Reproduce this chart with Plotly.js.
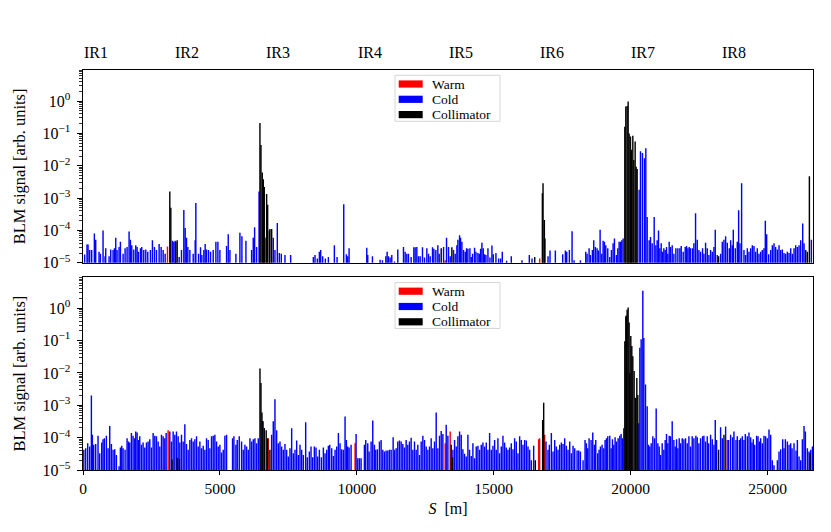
<!DOCTYPE html>
<html>
<head>
<meta charset="utf-8">
<script src="https://cdn.plot.ly/plotly-3.0.1.min.js"></script>
<style>html,body{margin:0;padding:0;background:#fff;}#chart{width:831px;height:532px;}</style>
</head>
<body>
<div id="chart"></div>
<script>
// ---------------- data ----------------
const irNames = ['IR1','IR2','IR3','IR4','IR5','IR6','IR7','IR8'];
const irPos = [0, 3332, 6664, 9997, 13329, 16661, 19994, 23315];
const xTickVals = [0, 5000, 10000, 15000, 20000, 25000];
const xTickText = ['0', '5000', '10000', '15000', '20000', '25000'];
const yTickVals = [1e-5, 1e-4, 1e-3, 1e-2, 1e-1, 1];
const yTickText = ['10<sup>\u22125</sup>','10<sup>\u22124</sup>','10<sup>\u22123</sup>','10<sup>\u22122</sup>','10<sup>\u22121</sup>','10<sup>0</sup>'];
const legendNames = ['Warm', 'Cold', 'Collimator'];

// ---- top panel ----
const topWarmS = [3085, 6660, 13228, 16677, 20012];
const topWarmV = [3.2e-5, 6e-5, 1.2e-5, 1.35e-5, 1e-3];

const topColdS = [
60,147,184,245,318,415,464,586,635,732,
805,830,952,1013,1098,1147,1196,1244,1317,1366,
1464,1537,1610,1683,1732,1781,1854,1927,1976,2024,
2098,2146,2219,2293,2366,2463,2536,2610,2683,2780,
2853,2927,3000,3268,3317,3365,3512,3597,3682,3731,
3780,3829,3902,4024,4097,4121,4219,4292,4341,4414,
4462,4511,4584,4658,4755,4853,4926,4999,5243,5304,
5365,5584,5730,5803,5950,6157,6218,6267,6340,6430,
6949,7010,7096,7169,7242,7376,7583,8412,8473,8558,
8632,8680,8753,8851,8961,9180,9278,9522,9619,9668,
9717,10363,10399,10570,10850,10936,11058,11106,11155,11216,
11277,11375,11496,11704,11765,11826,11887,11984,12082,12130,
12191,12252,12313,12398,12472,12557,12618,12679,12764,12813,
12886,12959,13008,13167,13276,13349,13410,13532,13593,13654,
13691,13752,13788,13837,13898,13959,14008,14056,14130,14178,
14227,14300,14349,14422,14471,14520,14568,14617,14666,14715,
14788,14861,14934,14983,15080,15178,15251,15312,15470,15641,
16031,16299,16397,16873,16982,17055,17250,17518,17616,17665,
17762,17860,17933,18165,18360,18409,18482,18530,18603,18652,
18713,18774,18823,18884,18945,18994,19042,19091,19164,19237,
19298,19359,19408,19481,19530,19579,19628,19676,19725,20310,
20359,20432,20505,20554,20603,20676,20725,20786,20859,20920,
20968,21017,21066,21115,21163,21212,21261,21310,21358,21407,
21456,21517,21578,21651,21724,21797,21846,21919,21992,22041,
22090,22139,22187,22260,22309,22370,22431,22492,22553,22626,
22675,22736,22797,22858,22919,22980,23041,23090,23163,23285,
23346,23407,23468,23529,23602,23651,23711,23748,23821,23894,
23943,23992,24052,24138,24199,24260,24321,24382,24443,24504,
24564,24625,24686,24747,24808,24869,24918,24967,25040,25113,
25174,25235,25296,25357,25418,25479,25540,25601,25662,25723,
25784,25845,25905,25966,26027,26088,26149,26210,26283,26332,
26600];
const topColdV = [
1.8e-5,3.7e-5,3.7e-5,2.5e-5,2.5e-5,8e-5,5.2e-5,2.2e-5,1.9e-5,1e-4,
1.6e-5,2.8e-5,1.6e-5,2.6e-5,2.5e-5,2.8e-5,6e-5,2.5e-5,3.1e-5,4.5e-5,
1.9e-5,2.8e-5,3.1e-5,9.3e-5,5.2e-5,3.5e-5,2.6e-5,3.5e-5,3.1e-5,2.2e-5,
2.8e-5,3.1e-5,2.5e-5,2.6e-5,2.2e-5,2.5e-5,5e-5,3.1e-5,2.5e-5,3.8e-5,
3.1e-5,2.5e-5,1.9e-5,4.8e-5,4.5e-5,4.8e-5,1.5e-5,2.5e-5,4.3e-4,1.2e-4,
6e-5,3.1e-5,2.5e-5,1.9e-5,5e-5,7e-4,1.9e-5,3e-5,1.75e-5,2.5e-5,
3.8e-5,2.6e-5,2.5e-5,2.2e-5,2.5e-5,4.5e-5,4.5e-5,2.5e-5,3.3e-5,7.6e-5,
2.5e-5,1.9e-5,8.5e-5,6.6e-5,4.8e-5,2.5e-5,6e-5,1.25e-4,3.1e-5,1.6e-3,
6e-5,2.5e-5,1.7e-4,2e-5,1.9e-5,1.75e-5,1.75e-5,1.5e-5,1.75e-5,1.35e-5,
2.2e-5,2.5e-5,1.6e-5,1.35e-5,1.5e-5,3.5e-5,1.5e-5,6.5e-4,1.85e-5,1.6e-5,
2.8e-5,2.9e-5,1.75e-5,1.6e-5,1.25e-5,1.2e-5,1.6e-5,2.2e-5,1.6e-5,1.45e-5,
1.75e-5,1.1e-5,2.6e-5,3.1e-5,2.2e-5,1.9e-5,1.9e-5,1.5e-5,3e-5,3e-5,
3.1e-5,1.6e-5,1.6e-5,3e-5,1.45e-5,2.8e-5,1.9e-5,1.6e-5,3e-5,2.7e-5,
2.5e-5,3.5e-5,1.9e-5,3.1e-5,6e-5,3.1e-5,1.6e-5,2.5e-5,1.9e-5,3.5e-5,
5.2e-5,7.1e-5,6e-5,4.5e-5,2.5e-5,2.2e-5,2.8e-5,2.7e-5,2.8e-5,1.5e-5,
1.9e-5,2.9e-5,2.2e-5,2e-5,1.9e-5,2.7e-5,4.2e-5,2.8e-5,1.85e-5,1.75e-5,
2.8e-5,1.45e-5,3.4e-5,1.85e-5,2e-5,1.35e-5,1.35e-5,2.2e-5,1.15e-5,1.6e-5,
1.2e-5,1.75e-5,1.35e-5,5.6e-5,1.6e-5,2.4e-5,2.4e-5,1.85e-5,2.4e-5,2.2e-5,
2.5e-5,9.4e-5,1.2e-5,1.2e-5,2.2e-5,1.9e-5,2.8e-5,1.75e-5,2.5e-5,5e-5,
3.1e-5,2.8e-5,2.4e-5,1.05e-4,1.9e-5,4.8e-5,4.5e-5,3.5e-5,2.8e-5,1.5e-5,
2.5e-5,4e-5,5.6e-5,1.75e-5,2.8e-5,4.5e-5,4.5e-5,5e-5,5.6e-5,1.8e-3,
0.028,0.025,0.017,0.035,2.6e-4,5e-5,6.3e-5,4e-5,2.6e-4,3.5e-5,
5e-5,1e-4,2.8e-5,4e-5,2.2e-5,2.8e-5,2.5e-5,3.1e-5,1.9e-5,4.5e-5,
3.1e-5,3.5e-5,1.9e-5,2.8e-5,2.8e-5,2.8e-5,3.3e-5,2.2e-5,3.1e-5,3.3e-5,
2.8e-5,3.1e-5,2.8e-5,2.8e-5,4e-5,3.4e-4,5.2e-5,2.5e-5,2.2e-5,2.8e-5,
1.9e-5,4.2e-5,2.8e-5,1.75e-5,2.5e-5,2.2e-5,3.1e-5,1.05e-4,1.75e-5,1.9e-5,
4.5e-5,5.2e-5,6.6e-5,4.2e-5,2.8e-5,5e-5,3.5e-5,1.05e-4,2.8e-5,4.5e-5,
4.2e-4,4e-5,2.9e-3,2.5e-5,1.75e-5,2.8e-5,2.2e-5,2.8e-5,3.5e-5,3.3e-5,
2.2e-5,2.8e-5,1.9e-5,2.2e-5,2.5e-5,2.8e-5,2e-4,7.6e-5,1.85e-5,2.5e-5,
3.5e-5,4e-5,3.1e-5,2.6e-5,3.5e-5,2.5e-5,2.6e-5,2e-5,1.9e-5,2.2e-5,
2e-5,2.8e-5,1.9e-5,2.8e-5,3.5e-5,3.1e-5,3.5e-5,5e-5,1.65e-4,4e-5,
5.2e-5];

const topCollS = [3170,3207,3390,3439,6462,6499,6547,6585,6620,6706,6743,6804,6827,6890,13081,13471,16496,16776,16800,16848,
19786,19823,19871,19908,19944,19993,20030,20079,20115,20164,20200,20237,23211,26393,26454,26527];
const topCollV = [1.6e-3,5e-4,4.5e-5,5e-5,0.21,0.044,6.2e-3,3.8e-3,2.2e-3,1.35e-3,6.2e-4,1e-4,1.1e-4,1.1e-4,2.8e-5,3e-5,1.5e-5,1.4e-3,2.9e-3,2.1e-4,
0.16,0.68,0.7,0.97,0.1,0.08,0.031,0.085,0.015,0.056,9.3e-3,8e-3,1.6e-5,2.5e-5,2.2e-5,4.7e-3];

// ---- bottom panel ----
const botWarmS = [3109, 6766, 9936, 13227, 13410, 16640, 16676, 16860, 20015, 23529];
const botWarmV = [1.7e-4, 9.6e-5, 6.7e-5, 6.7e-5, 1.55e-4, 9e-5, 9.5e-5, 1.24e-4, 1.5e-3, 8.5e-5];

const botColdS = [
30,98,172,245,306,342,391,464,549,610,
684,732,781,854,915,976,1037,1098,1159,1220,
1317,1366,1415,1464,1537,1610,1659,1708,1768,1829,
1890,1927,1976,2024,2073,2134,2195,2256,2317,2378,
2439,2500,2561,2622,2683,2744,2805,2866,2927,2987,
3036,3170,3231,3292,3353,3414,3475,3536,3597,3658,
3719,3780,3841,3902,3963,4024,4085,4146,4207,4268,
4328,4389,4450,4511,4572,4633,4694,4755,4816,4877,
4938,4999,5060,5121,5182,5243,5462,5511,5584,5633,
5706,5791,5852,5913,5974,6035,6096,6157,6218,6279,
6340,6401,6559,6888,6949,7010,7071,7132,7193,7254,
7315,7376,7437,7498,7559,7620,7681,7742,7803,7864,
7925,7986,8047,8132,8193,8266,8327,8388,8449,8510,
8571,8632,8705,8778,8839,8900,8961,9010,9083,9144,
9205,9266,9327,9388,9449,9509,9570,9619,9668,9717,
9790,9973,10034,10095,10156,10277,10326,10399,10448,10521,
10582,10643,10692,10753,10826,10887,10948,11009,11070,11131,
11192,11253,11326,11375,11436,11496,11557,11618,11679,11740,
11801,11862,11923,11984,12045,12106,12167,12228,12289,12350,
12411,12472,12533,12594,12655,12715,12776,12837,12898,12959,
13020,13081,13142,13264,13325,13508,13569,13630,13691,13752,
13813,13873,13934,13995,14056,14117,14178,14239,14300,14361,
14422,14483,14544,14605,14666,14727,14788,14849,14910,14971,
15032,15092,15153,15214,15275,15336,15397,15458,15519,15580,
15641,15702,15763,15824,15885,15946,16007,16068,16129,16190,
16251,16312,16373,16458,16909,16982,17031,17104,17165,17226,
17287,17348,17409,17470,17530,17591,17652,17713,17774,17835,
17896,17957,18043,18104,18165,18262,18335,18384,18433,18482,
18555,18616,18677,18725,18798,18847,18896,18957,19018,19067,
19116,19164,19237,19286,19335,19384,19432,19481,19542,19603,
19652,19701,19749,20298,20335,20383,20444,20481,20542,20603,
20651,20700,20749,20810,20871,20932,20993,21042,21090,21151,
21212,21261,21310,21358,21407,21456,21517,21578,21627,21676,
21724,21773,21822,21883,21944,22005,22066,22127,22187,22248,
22309,22382,22431,22492,22553,22626,22675,22736,22797,22846,
22919,22980,23041,23090,23138,23285,23346,23468,23577,23651,
23724,23772,23846,23894,23967,24016,24077,24138,24187,24260,
24321,24382,24430,24479,24528,24601,24650,24699,24747,24808,
24869,24930,24991,25052,25113,25174,25235,25357,25418,25479,
25552,25601,25650,25723,25784,25845,25893,25966,26039,26088,
26149,26210,26271,26332,26381,26454,26515,26576,26637];
const botColdV = [
4.2e-5,4.7e-5,6.7e-5,5.3e-5,2e-3,1.24e-4,6e-5,6.4e-5,1.15e-4,3.3e-5,
7.1e-5,8.9e-5,9.6e-5,1.15e-4,4.7e-5,2.3e-4,6.4e-5,4.2e-5,4.4e-5,2.9e-5,
1.3e-5,5e-5,5.6e-5,4.7e-5,4.2e-5,9.6e-5,7.6e-5,7.1e-5,1.4e-4,1.15e-4,
9.6e-5,1.55e-4,1.45e-4,8.5e-5,1.1e-4,6e-5,7.1e-5,5e-5,7.1e-5,7.6e-5,
8.9e-5,5e-5,1.4e-4,1.15e-4,1.1e-4,7.6e-5,5.3e-5,1.24e-4,1.1e-4,9.6e-5,
1.4e-4,1.55e-4,7.6e-5,1.55e-4,1.24e-4,1.55e-4,1.1e-4,7.1e-5,1.24e-4,7.6e-5,
2.6e-4,6.4e-5,4.2e-5,8.5e-5,9.6e-5,7.6e-5,8.9e-5,1.1e-4,5.3e-5,7.6e-5,
4.7e-5,5.6e-5,4.2e-5,9.6e-5,8.5e-5,4.7e-5,1.1e-4,1.15e-4,1.24e-4,7.6e-5,
5.3e-5,6e-5,3.5e-5,4.2e-5,1.15e-4,1.24e-4,9.6e-5,1.1e-4,6e-5,8.5e-5,
1.1e-4,7.6e-5,4.2e-5,6e-5,5.3e-5,4.2e-5,9.6e-5,7.6e-5,8.9e-5,9.6e-5,
6.7e-5,9.6e-5,3.2e-4,1.24e-4,3.2e-4,1.55e-3,1.7e-4,6.7e-5,7.6e-5,5.3e-5,
4.2e-5,6.4e-5,4.2e-5,2.6e-5,4.7e-5,1.95e-4,3.3e-5,4.2e-5,8.1e-5,2.9e-5,
6e-5,4.2e-5,2.9e-5,3e-4,2.5e-5,3.7e-5,5.3e-5,2.5e-5,5.3e-5,5e-5,
2.6e-5,4.2e-5,2.5e-5,5e-5,3.3e-5,4.2e-5,5.6e-5,6e-5,4.7e-5,2.7e-5,
4.2e-5,5.3e-5,1.4e-4,6.7e-5,4.4e-5,4.2e-5,4.5e-4,8.5e-5,5.3e-5,5e-5,
6e-5,1.3e-4,2.3e-5,2.3e-5,2.3e-5,6e-5,8.5e-5,6.7e-5,3.7e-5,7.6e-5,
3.4e-4,6e-5,4.2e-5,4.4e-5,7.6e-5,8.5e-5,4.2e-5,3.7e-5,4e-5,4e-5,
4.2e-5,4.2e-5,1.03e-4,4.2e-5,4.7e-5,7.6e-5,8.1e-5,7.6e-5,6.4e-5,5e-5,
8.5e-5,6e-5,7.6e-5,1e-4,4.2e-5,7.6e-5,4.2e-5,6e-5,2.9e-5,7.6e-5,
1.15e-4,8.5e-5,5.3e-5,4.2e-5,5.3e-5,9.6e-5,4.7e-5,7.6e-5,6e-4,4.7e-5,
1.15e-4,1.6e-4,1.3e-4,2.5e-4,1.15e-4,4.2e-5,8.5e-5,5.3e-5,1.1e-4,1.55e-4,
1.24e-4,4.4e-5,3.2e-5,2.6e-5,1.24e-4,4.2e-5,2.7e-5,6.7e-5,2.3e-5,5.3e-5,
5.6e-5,4.2e-5,6e-5,7.1e-5,5.3e-5,7.1e-5,4.2e-5,1.4e-4,4.2e-5,5.6e-5,
8.5e-5,4.2e-5,9.6e-5,3.3e-5,5.3e-5,1.15e-4,7.1e-5,5e-5,4.2e-5,5e-5,
6.7e-5,4.4e-5,9.6e-5,7.6e-5,3.3e-5,1.1e-4,8.5e-5,6e-5,8.5e-5,8.1e-5,
5.3e-5,4.2e-5,2e-5,5.6e-5,7.6e-5,4.2e-5,6e-5,1.4e-4,3.7e-5,8.5e-5,
5.3e-5,4.2e-5,6e-5,7.1e-5,6.4e-5,9.6e-5,5.6e-5,4.2e-5,7.6e-5,3.3e-5,
5.6e-5,4.7e-5,4e-5,4e-5,3.7e-5,2e-5,8.5e-5,6.7e-5,4.7e-5,9.6e-5,
8.5e-5,1.45e-4,6e-5,8.5e-5,3.3e-5,4.2e-5,5.3e-5,6e-5,4.7e-5,8.5e-5,
9.6e-5,1.1e-4,1.15e-4,4.7e-5,8.9e-5,6e-5,1.03e-4,7.6e-5,9.6e-5,1.15e-4,
1.3e-4,9.6e-5,1.95e-4,2.8e-4,0.06,0.11,3.5,0.12,4.4e-3,9.3e-4,
6e-5,5.3e-5,6.7e-5,1.1e-4,9.6e-5,8e-4,6.7e-5,5.3e-5,2.9e-5,6.7e-5,
4.2e-5,8.5e-5,1.3e-4,6.7e-5,1.15e-4,1.1e-4,3.2e-4,8.5e-5,5.3e-5,8.9e-5,
4.7e-5,9.6e-5,6.7e-5,9.6e-5,8.9e-5,9.6e-5,6.7e-5,1.1e-4,5.3e-5,1.1e-4,
9.6e-5,1.15e-4,1.03e-4,6.7e-5,9.6e-5,1.1e-4,1.15e-4,7.6e-5,1.1e-4,6.7e-5,
1.24e-4,8.9e-5,6e-5,3.5e-4,8.5e-5,2.1e-4,9.6e-5,2.2e-4,8.5e-5,1.24e-4,
1.03e-4,1.55e-4,8.5e-5,1.1e-4,8.5e-5,9.6e-5,1.1e-4,8.5e-5,1.3e-4,1.1e-4,
1.45e-4,1.03e-4,7.1e-5,8.9e-5,6e-5,1.15e-4,1.1e-4,7.6e-5,9.6e-5,6.7e-5,
1.15e-4,1.1e-4,9.6e-5,1.8e-4,1.24e-4,2e-5,1.4e-5,2e-5,3.7e-5,4.4e-5,
8.9e-5,4.7e-5,8.9e-5,7.6e-5,6e-5,6.7e-5,4.7e-5,6.7e-5,4e-5,8.5e-5,
2.6e-5,2e-5,8.9e-5,2.3e-4,1.55e-4,4.7e-5,3.7e-5,4.2e-5,5.3e-5];

const botCollS = [3250,3440,3520,6463,6499,6535,6572,6620,6690,6740,6827,13447,13495,16519,16787,16824,
19786,19823,19847,19871,19908,19944,19969,20005,20042,20079,20127,20176,20225,20261,23211,23407,26551];
const botCollV = [2.1e-5,2.4e-5,2.2e-5,0.0138,4.9e-3,6e-4,3.2e-4,2e-4,1.7e-4,9.5e-5,4.2e-5,6e-5,2.5e-5,2e-5,3.5e-4,1.2e-3,
0.095,0.57,0.6,0.9,1.05,0.36,0.01,0.14,0.068,0.033,0.0115,1.7e-3,7e-3,2.1e-3,4.2e-5,1.24e-4,3.3e-5];

// ---------------- styling ----------------
const colors = {Warm: '#ff0000', Cold: '#0000ff', Collimator: '#000000'};
const barW = 52;
const FONT = 'Liberation Serif, Times New Roman, serif';

function barTrace(name, xs, ys, xa, ya) {
  return {type: 'bar', name: name, x: xs, y: ys, width: barW, xaxis: xa, yaxis: ya,
          marker: {color: colors[name], line: {width: 0}}, showlegend: false, hoverinfo: 'skip'};
}

const data = [
  barTrace('Warm', topWarmS, topWarmV, 'x', 'y'),
  barTrace('Cold', topColdS, topColdV, 'x', 'y'),
  barTrace('Collimator', topCollS, topCollV, 'x', 'y'),
  barTrace('Warm', botWarmS, botWarmV, 'x2', 'y2'),
  barTrace('Cold', botColdS, botColdV, 'x2', 'y2'),
  barTrace('Collimator', botCollS, botCollV, 'x2', 'y2')
];

const minorVals = [];
for (let d = -5; d <= 0; d++) { for (let k = 2; k <= 9; k++) minorVals.push(k * Math.pow(10, d)); }

const LW = 1.4;
function yAxis(domain, anchor) {
  return {
    domain: domain, anchor: anchor, type: 'log', range: [-5, 0.96],
    tickmode: 'array', tickvals: yTickVals, ticktext: yTickText,
    ticks: 'outside', ticklen: 5, tickwidth: 1, tickcolor: '#000',
    minor: {tickmode: 'array', tickvals: minorVals, ticks: 'outside', ticklen: 2.5, tickwidth: 0.8, tickcolor: '#000', showgrid: false},
    showgrid: false, zeroline: false, showline: true, mirror: true, linecolor: '#000', linewidth: LW,
    tickfont: {family: FONT, size: 16, color: '#000'},
    ticklabelstandoff: 3,
    title: {text: 'BLM signal [arb. units]', font: {family: FONT, size: 16.5, color: '#000'}, standoff: 12}
  };
}

const layout = {
  width: 831, height: 532,
  margin: {l: 83, r: 18, t: 70, b: 62, pad: 0},
  paper_bgcolor: '#fff', plot_bgcolor: '#fff',
  font: {family: FONT, size: 15, color: '#000'},
  barmode: 'overlay', showlegend: false,
  xaxis: {domain: [0, 1], anchor: 'y', range: [0, 26659], showticklabels: false, ticks: '',
          showgrid: false, zeroline: false, showline: true, mirror: true, linecolor: '#000', linewidth: LW},
  xaxis2: {domain: [0, 1], anchor: 'y2', range: [0, 26659], tickmode: 'array', tickvals: xTickVals, ticktext: xTickText,
           ticks: 'outside', ticklen: 4, tickwidth: 1, tickcolor: '#000',
           showgrid: false, zeroline: false, showline: true, mirror: true, linecolor: '#000', linewidth: LW,
           tickfont: {family: FONT, size: 15.5, color: '#000'},
           title: {text: '<i>S</i>  [m]', font: {family: FONT, size: 16, color: '#000'}, standoff: 6}},
  yaxis: yAxis([0.518, 1], 'x'),
  yaxis2: yAxis([0, 0.482], 'x2'),
  shapes: [],
  annotations: []
};

// IR labels along the top
irNames.forEach(function (n, i) {
  layout.annotations.push({text: n, x: irPos[i], xref: 'x', y: 1.044, yref: 'paper',
    xanchor: 'left', yanchor: 'middle', showarrow: false, borderpad: 0,
    font: {family: FONT, size: 16, color: '#000'}});
});

// legend boxes in both panels
function addLegend(yTopPx) {
  const py = function (p) { return (470 - p) / 400; };
  const px = function (p) { return (p - 83) / 730; };
  layout.shapes.push({type: 'rect', xref: 'paper', yref: 'paper', x0: px(395), x1: px(500),
    y0: py(yTopPx + 46), y1: py(yTopPx), line: {color: '#d6d6d6', width: 1}, fillcolor: 'rgba(255,255,255,0.85)', layer: 'above'});
  legendNames.forEach(function (n, i) {
    const cy = yTopPx + 8.7 + i * 15.3;
    layout.shapes.push({type: 'rect', xref: 'paper', yref: 'paper', x0: px(398.7), x1: px(422.7),
      y0: py(cy + 3.6), y1: py(cy - 3.6), line: {width: 0}, fillcolor: colors[n], layer: 'above'});
    layout.annotations.push({text: n, x: px(431), xref: 'paper', y: py(cy), yref: 'paper',
      xanchor: 'left', yanchor: 'middle', showarrow: false, borderpad: 0,
      font: {family: FONT, size: 13.5, color: '#000'}});
  });
}
addLegend(75.3);
addLegend(282.5);

Plotly.newPlot('chart', data, layout, {staticPlot: true, displayModeBar: false});
</script>
</body>
</html>
